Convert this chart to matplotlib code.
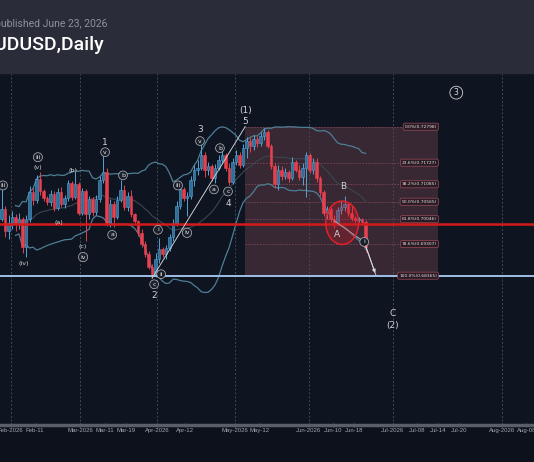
import matplotlib
matplotlib.use('Agg')
import matplotlib.pyplot as plt
from matplotlib.patches import Rectangle, Ellipse
import numpy as np
import pandas as pd

# daily candles, one per trading bar (open of each bar = previous close)
first_open = 0.7006
closes = [0.7036, 0.6970, 0.6994, 0.7012, 0.6991, 0.7006, 0.6922, 0.7006, 0.7084, 0.7063,
          0.7123, 0.7087, 0.7069, 0.7057, 0.7081, 0.7039, 0.7084, 0.7051, 0.7069, 0.7111,
          0.7072, 0.7108, 0.7024, 0.7087, 0.7021, 0.7066, 0.7027, 0.7066, 0.7120, 0.7144,
          0.6994, 0.7051, 0.7012, 0.7063, 0.7090, 0.7042, 0.7075, 0.7021, 0.7000, 0.6964,
          0.6931, 0.6901, 0.6862, 0.6841, 0.6886, 0.6916, 0.6901, 0.6919, 0.6952, 0.6994,
          0.7045, 0.7093, 0.7069, 0.7075, 0.7120, 0.7150, 0.7156, 0.7195, 0.7150, 0.7162,
          0.7126, 0.7156, 0.7180, 0.7195, 0.7156, 0.7114, 0.7174, 0.7195, 0.7165, 0.7216,
          0.7237, 0.7222, 0.7243, 0.7231, 0.7252, 0.7264, 0.7222, 0.7162, 0.7108, 0.7150,
          0.7132, 0.7144, 0.7126, 0.7174, 0.7150, 0.7129, 0.7156, 0.7195, 0.7150, 0.7174,
          0.7126, 0.7084, 0.7024, 0.7036, 0.7006, 0.6994, 0.7033, 0.7042, 0.7051, 0.7024,
          0.7009, 0.7003, 0.7006, 0.6997, 0.6922]
highs = [0.7096, 0.7045, 0.7018, 0.7030, 0.7021, 0.7024, 0.7012, 0.7018, 0.7102, 0.7096,
         0.7135, 0.7144, 0.7093, 0.7075, 0.7090, 0.7087, 0.7096, 0.7099, 0.7078, 0.7120,
         0.7117, 0.7144, 0.7114, 0.7096, 0.7093, 0.7075, 0.7072, 0.7078, 0.7132, 0.7204,
         0.7156, 0.7066, 0.7060, 0.7075, 0.7120, 0.7105, 0.7084, 0.7090, 0.7024, 0.7003,
         0.6976, 0.6940, 0.6910, 0.6871, 0.6904, 0.6949, 0.6922, 0.6928, 0.6961, 0.7006,
         0.7060, 0.7102, 0.7099, 0.7084, 0.7132, 0.7165, 0.7180, 0.7231, 0.7204, 0.7174,
         0.7168, 0.7168, 0.7195, 0.7210, 0.7201, 0.7171, 0.7186, 0.7210, 0.7204, 0.7228,
         0.7249, 0.7246, 0.7255, 0.7252, 0.7264, 0.7276, 0.7270, 0.7228, 0.7171, 0.7165,
         0.7162, 0.7156, 0.7150, 0.7189, 0.7180, 0.7165, 0.7171, 0.7204, 0.7201, 0.7186,
         0.7186, 0.7132, 0.7090, 0.7045, 0.7042, 0.7018, 0.7042, 0.7060, 0.7075, 0.7057,
         0.7048, 0.7015, 0.7012, 0.7009, 0.7003]
lows = [0.7000, 0.6952, 0.6946, 0.6976, 0.6970, 0.6976, 0.6904, 0.6892, 0.6997, 0.7048,
        0.7054, 0.7078, 0.7060, 0.7048, 0.7045, 0.7030, 0.7033, 0.7042, 0.7039, 0.7060,
        0.7063, 0.7066, 0.7018, 0.7018, 0.6940, 0.7006, 0.7015, 0.7018, 0.7057, 0.7111,
        0.6985, 0.6982, 0.6982, 0.7006, 0.7057, 0.7033, 0.7030, 0.7012, 0.6994, 0.6955,
        0.6922, 0.6892, 0.6856, 0.6829, 0.6832, 0.6874, 0.6892, 0.6886, 0.6910, 0.6940,
        0.6985, 0.7036, 0.7060, 0.7015, 0.7066, 0.7102, 0.7135, 0.7150, 0.7129, 0.7135,
        0.7117, 0.7111, 0.7150, 0.7168, 0.7147, 0.7105, 0.7108, 0.7165, 0.7156, 0.7159,
        0.7186, 0.7204, 0.7210, 0.7219, 0.7222, 0.7240, 0.7216, 0.7153, 0.7096, 0.7090,
        0.7120, 0.7123, 0.7114, 0.7120, 0.7144, 0.7120, 0.7105, 0.7072, 0.7141, 0.7138,
        0.7114, 0.7075, 0.7015, 0.7006, 0.6997, 0.6979, 0.6988, 0.7021, 0.7030, 0.7015,
        0.7000, 0.6994, 0.6997, 0.6991, 0.6907]

# x axis (bar index positions of the date labels)
tick_pos = [2.6, 9.6, 22.5, 29.6, 35.6, 44.5, 52.5, 66.7, 73.7, 87.7, 94.7, 100.7,
            111.8, 118.7, 124.7, 130.7, 142.9, 149.9]
tick_labels = ['Feb-2026', 'Feb-11', 'Mar-2026', 'Mar-11', 'Mar-19', 'Apr-2026', 'Apr-12',
               'May-2026', 'May-12', 'Jun-2026', 'Jun-10', 'Jun-18', 'Jul-2026', 'Jul-08',
               'Jul-14', 'Jul-20', 'Aug-2026', 'Aug-08']

# fibonacci retracement tool
fib_pct = [0.0, 23.6, 38.2, 50.0, 61.8, 78.6, 100.0]
fib_price = [0.72798, 0.71727, 0.71085, 0.70565, 0.70046, 0.69307, 0.68365]
fib_x0, fib_x1 = 69.6, 124.7

red_level = 0.6990
blue_level = 0.68365

# elliott wave labels: (text, bar, price)
circle_labels = [('iii', 0.4, 0.7105), ('iii', 10.4, 0.7189), ('iv', 23.3, 0.6892),
                 ('v', 29.6, 0.7204), ('a', 31.6, 0.6958), ('b', 34.7, 0.7135),
                 ('c', 43.6, 0.6811), ('i', 44.7, 0.6973), ('ii', 45.6, 0.6841),
                 ('iii', 50.4, 0.7105), ('iv', 53.0, 0.6964), ('v', 56.7, 0.7237),
                 ('a', 60.7, 0.7093), ('b', 62.4, 0.7216), ('c', 64.7, 0.7087),
                 ('i', 103.6, 0.6937)]
paren_labels = [('(v)', 10.4, 0.7159), ('(iv)', 6.4, 0.6874), ('(a)', 16.4, 0.6994),
                ('(b)', 20.4, 0.7150), ('(c)', 23.3, 0.6922)]
wave_labels = [('1', 29.6, 0.7234), ('2', 43.6, 0.6778), ('3', 56.7, 0.7270),
               ('4', 64.7, 0.7051), ('(1)', 69.6, 0.7327), ('5', 69.6, 0.7294),
               ('A', 95.9, 0.6958), ('B', 97.6, 0.7102), ('C', 111.6, 0.6724),
               ('(2)', 111.6, 0.6688)]
projection_x = [95.0, 103.6, 107.0]
projection_y = [0.7000, 0.6937, 0.68365]

bg = '#0e1420'
fig = plt.figure(figsize=(5.34, 4.62), dpi=100, facecolor='#0c111b')
fig.patches.append(Rectangle((0, 389 / 462), 1, 73 / 462, transform=fig.transFigure,
                             color='#2a2d39', zorder=0))
fig.text(104 / 534, 1 - 45 / 462, 'AUDUSD,Daily', ha='right', va='center', fontsize=14,
         color='white', family='Roboto', weight='medium')
fig.text(107 / 534, 1 - 24 / 462, 'published June 23, 2026', ha='right', va='center',
         fontsize=7.5, color='#8e909a', family='Roboto')

ax = fig.add_axes([0, 37 / 462, 1, 352 / 462])
ax.set_facecolor(bg)
ax.set_xlim(-0.43, 152.1)
ax.set_ylim(0.63923, 0.74395)
for s in ['top', 'left', 'right']:
    ax.spines[s].set_visible(False)
ax.spines['bottom'].set_color('#5a5e69')
ax.spines['bottom'].set_linewidth(2.5)
ax.set_yticks([])
ax.set_xticks(tick_pos)
ax.set_xticklabels(tick_labels, family='Liberation Sans')
ax.tick_params(axis='x', colors='#5a5e69', labelcolor='#a3a7b0', labelsize=4.3,
               length=3, width=0.8, direction='inout', pad=1)

# month separators
for t, lab in zip(tick_pos, tick_labels):
    if lab.endswith('2026'):
        ax.axvline(t, color='#434955', lw=0.7, ls=(0, (2, 2)), zorder=1)

# fib box
ax.add_patch(Rectangle((fib_x0, fib_price[-1]), fib_x1 - fib_x0, fib_price[0] - fib_price[-1],
                       color='#372833', zorder=0.5, lw=0))
for pct, p in zip(fib_pct, fib_price):
    ax.hlines(p, fib_x0, fib_x1, color='#7e4656', lw=0.6, ls=(0, (2, 1.5)), zorder=1)
    ax.text(fib_x1 - 0.3, p, '%.1f%%(%.5f)' % (pct, p), ha='right', va='center',
            fontsize=3.2, color='#e8dde0', zorder=6,
            bbox=dict(boxstyle='round,pad=0.35', fc='#2a1c24', ec='#9c4a5a', lw=0.5))

# bollinger bands
c = pd.Series(closes)
mid = c.rolling(20, min_periods=5).mean()
sd = c.rolling(20, min_periods=5).std(ddof=0)
xb = np.arange(len(closes))
ax.plot(xb, mid + 2 * sd, color='#4f7e96', lw=0.9, zorder=2)
ax.plot(xb, mid - 2 * sd, color='#4f7e96', lw=0.9, zorder=2)
ax.plot(xb, mid, color='#3b4653', lw=0.8, zorder=2)

# candles
o = np.array([first_open] + closes[:-1])
cl = np.array(closes)
hi = np.array(highs)
lo = np.array(lows)
up = cl >= o
for mask, face, edge in [(up, '#2f6f99', '#55a3d4'), (~up, '#e8404e', '#e8404e')]:
    ax.vlines(xb[mask], lo[mask], hi[mask], color=edge, lw=0.7, zorder=3)
    ax.bar(xb[mask], (cl - o)[mask], bottom=o[mask], width=0.7, color=face,
           edgecolor=edge, lw=0.4, zorder=4)

# key levels
ax.axhline(red_level, color='#d41a1a', lw=1.8, zorder=5)
ax.axhline(blue_level, color='#9fbfe8', lw=1.4, zorder=5)

# wave 2 -> 5 line
ax.plot([43, fib_x0], [lows[43], fib_price[0]], color='#c9cdd3', lw=0.7, zorder=5)

# projection
ax.plot(projection_x, projection_y, color='#b8bcc4', lw=0.7, zorder=5)
ax.annotate('', xy=(projection_x[-1], projection_y[-1]),
            xytext=(projection_x[-2], projection_y[-2]),
            arrowprops=dict(arrowstyle='-|>', color='#d8dbe0', lw=0.7, mutation_scale=5),
            zorder=5)

ax.add_patch(Ellipse((97.3, 0.6994), 9.4, 0.0129, fc=(0.85, 0.1, 0.15, 0.28),
                     ec='#e0202a', lw=1.1, zorder=5))

for t, xx, yy in circle_labels:
    ax.text(xx, yy, t, ha='center', va='center', fontsize=4.5, color='#e8e8e8', zorder=7,
            bbox=dict(boxstyle='circle,pad=0.3', fc='#1a1f2a', ec='#b8bcc4', lw=0.5))
for t, xx, yy in paren_labels:
    ax.text(xx, yy, t, ha='center', va='center', fontsize=4.6, color='#d8d8d8', zorder=7)
for t, xx, yy in wave_labels:
    ax.text(xx, yy, t, ha='center', va='center', fontsize=6.5, color='#d0d3d8', zorder=7)
ax.text(129.9, 0.7381, '3', ha='center', va='center', fontsize=5.5, color='#e0e0e0',
        zorder=7, bbox=dict(boxstyle='circle,pad=0.25', fc=bg, ec='#d0d0d0', lw=0.6))

fig.savefig('out.png', dpi=100, facecolor=fig.get_facecolor())
